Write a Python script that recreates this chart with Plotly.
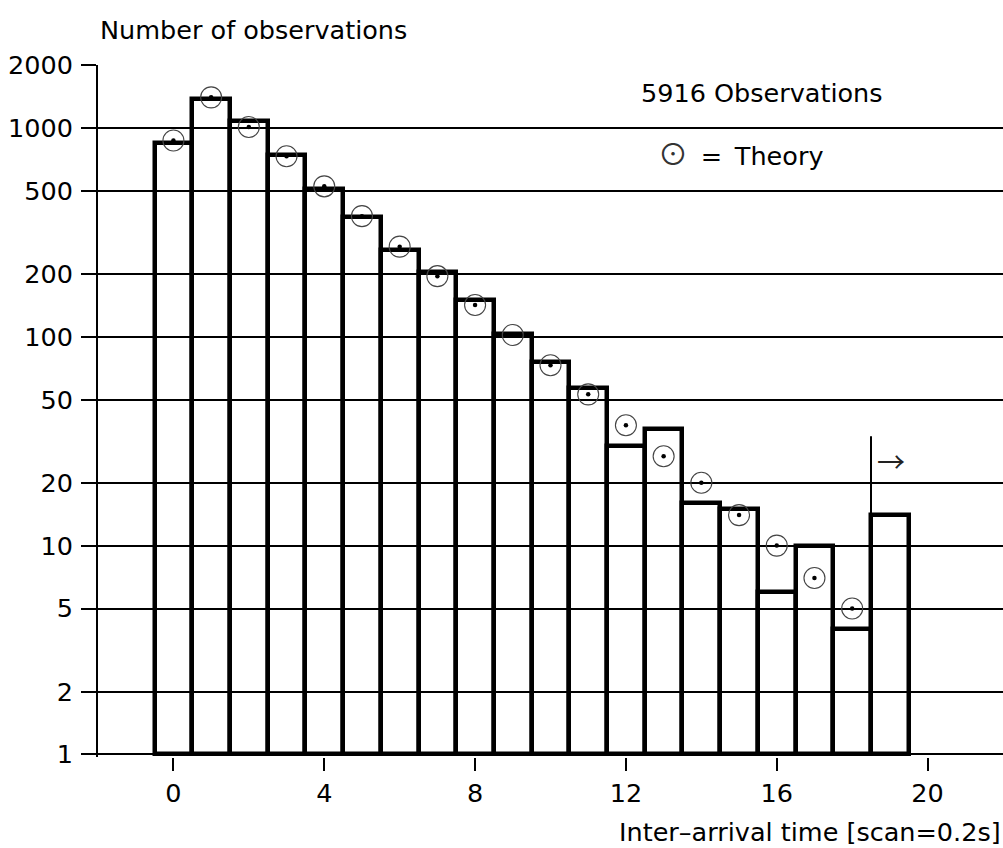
import math
import plotly.graph_objects as go

# ---- data ----
bins = list(range(20))                      # inter-arrival time (scans)
observed = [847, 1371, 1079, 739, 510, 376, 261, 205, 150, 103,
            76, 57, 30, 36, 16, 15, 6, 10, 4, 14]
theory_x = list(range(19))
theory = [870, 1400, 1010, 731, 525, 378, 270, 195, 142, 102,
          73, 53, 37.7, 26.8, 20, 14, 10, 7, 5]
y_ticks = [1, 2, 5, 10, 20, 50, 100, 200, 500, 1000, 2000]
y_ticktext = [str(v) for v in y_ticks]
x_ticks = [0, 4, 8, 12, 16, 20]
cutoff_x = [18.5, 18.5]
cutoff_y = [14, 33.4]

FONT = "DejaVu Sans"
SYMFONT = "Noto Sans CJK JP"
FS = 25.5

fig = go.Figure()

# histogram bars (base at 1 on the log axis)
fig.add_trace(go.Bar(
    x=bins, y=[v - 1 for v in observed], base=1, width=1,
    marker=dict(color="rgba(0,0,0,0)", line=dict(color="black", width=4.5)),
    showlegend=False, hoverinfo="skip",
))

# cut-off marker line
fig.add_trace(go.Scatter(
    x=cutoff_x, y=cutoff_y, mode="lines",
    line=dict(color="black", width=2), showlegend=False, hoverinfo="skip",
))

# theory: open circle + central dot
fig.add_trace(go.Scatter(
    x=theory_x, y=theory, mode="markers",
    marker=dict(symbol="circle-open", size=21, color="#444", line=dict(width=1.1)),
    showlegend=False, hoverinfo="skip",
))
fig.add_trace(go.Scatter(
    x=theory_x, y=theory, mode="markers",
    marker=dict(symbol="circle", size=4.5, color="black"),
    showlegend=False, hoverinfo="skip",
))

W, H = 1003, 848
L, R, T, B = 98, 0, 65, 91
ph = H - T - B
pw = W - L - R


def py(pix):
    return (H - B - pix) / ph


def px(pix):
    return (pix - L) / pw


annotations = [
    dict(text="Number of observations", x=0, y=py(30), xanchor="left", yanchor="middle"),
    dict(text="5916 Observations", x=px(639), y=py(93), xanchor="left", yanchor="middle"),
    dict(text=("<span style='color:#333;font-family:\"" + SYMFONT + "\";font-size:30px'>\u2299</span>"
               "\u2002=\u2002Theory"),
         x=px(656), y=py(152), xanchor="left", yanchor="middle"),
    dict(text="Inter\u2013arrival time [scan=0.2s]", x=1, y=py(832), xanchor="right",
         yanchor="middle"),
    dict(text="\u2192", x=px(891), y=py(461), xanchor="center", yanchor="middle",
         font=dict(family=SYMFONT, size=28, color="#222")),
]
for a in annotations:
    a.update(xref="paper", yref="paper", showarrow=False)
    a.setdefault("font", dict(family=FONT, size=FS, color="black"))

fig.update_layout(
    width=W, height=H,
    margin=dict(l=L, r=R, t=T, b=B, pad=0),
    paper_bgcolor="white", plot_bgcolor="white",
    bargap=0,
    font=dict(family=FONT, size=FS, color="black"),
    annotations=annotations,
    xaxis=dict(
        range=[-2, 22], tickvals=x_ticks, ticktext=[str(v) for v in x_ticks],
        showgrid=False, zeroline=False, showline=False,
        ticks="outside", ticklen=13, tickwidth=2, tickcolor="black",
        tickfont=dict(family=FONT, size=FS, color="black"),
    ),
    yaxis=dict(
        type="log", range=[-0.012, math.log10(2000)],
        tickvals=y_ticks, ticktext=y_ticktext,
        showgrid=True, gridcolor="black", gridwidth=1.8,
        zeroline=False, showline=True, linecolor="black", linewidth=2,
        ticks="outside", ticklen=15, tickwidth=1.8, tickcolor="black",
        ticklabelstandoff=3,
        tickfont=dict(family=FONT, size=FS, color="black"),
    ),
)

fig.write_html("out.html", config={"displayModeBar": False},
               post_script="document.body.style.margin='0';")
